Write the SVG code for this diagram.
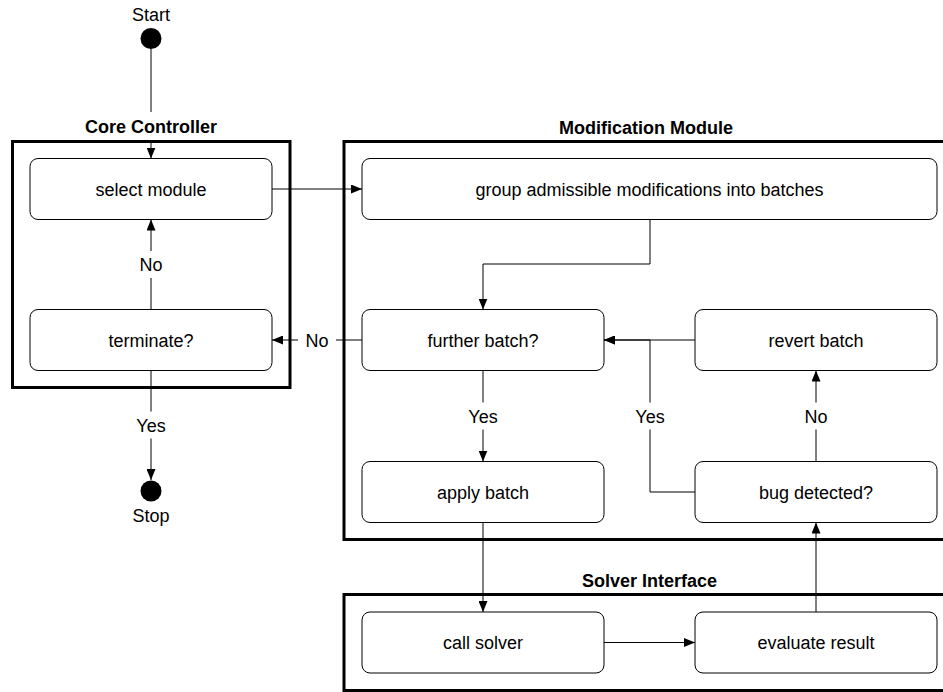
<svg xmlns="http://www.w3.org/2000/svg" width="943" height="692" viewBox="0 0 943 692">
  <style>
    .frame { fill: none; stroke: #000; stroke-width: 3; }
    .node rect { fill: #fff; stroke: #000; stroke-width: 1; }
    .node text, .lbl text, .term text { font-family: "Liberation Sans", Arial, sans-serif; font-size: 18px; text-anchor: middle; fill: #000; }
    .title { font-family: "Liberation Sans", Arial, sans-serif; font-size: 18px; font-weight: bold; text-anchor: middle; fill: #000; }
    .conn path { fill: none; stroke: #000; stroke-width: 1; }
    .arr { marker-end: url(#ah); }
    .bg { fill: #fff; stroke: none; }
  </style>
  <defs>
    <marker id="ah" markerUnits="userSpaceOnUse" markerWidth="11" markerHeight="9" refX="11" refY="4.5" orient="auto">
      <path d="M0,0 L11,4.5 L0,9 z" fill="#000"/>
    </marker>
  </defs>
  <rect width="943" height="692" fill="#fff"/>

  <!-- frames -->
  <g id="frames">
    <rect class="frame" x="12.5" y="141.5" width="277.5" height="246"/>
    <rect class="frame" x="344" y="141.5" width="611" height="398"/>
    <rect class="frame" x="344" y="594.5" width="611" height="96"/>
  </g>

  <!-- connectors -->
  <g id="connectors" class="conn">
    <path class="arr" d="M151,49 V158.5"/>
    <path class="arr" d="M272,189 H362"/>
    <path class="arr" d="M650,219.5 V264 H483 V309.5"/>
    <path class="arr" d="M362,340 H272"/>
    <path class="arr" d="M151,309.5 V219.5"/>
    <path class="arr" d="M151,370.5 V480"/>
    <path class="arr" d="M483,370.5 V461.5"/>
    <path class="arr" d="M695,340 H604"/>
    <path class="arr" d="M695,492 H650 V340 H604"/>
    <path class="arr" d="M816,461.5 V370.5"/>
    <path class="arr" d="M483,522.5 V612"/>
    <path class="arr" d="M604,642.5 H695"/>
    <path class="arr" d="M816,612 V522.5"/>
  </g>

  <!-- frame titles -->
  <g id="frame-titles">
    <rect class="bg" x="77" y="112" width="148" height="28"/>
    <rect class="bg" x="553" y="112" width="186" height="28"/>
    <rect class="bg" x="576" y="565" width="147" height="28"/>
    <text class="title" x="151" y="133">Core Controller</text>
    <text class="title" x="646" y="134">Modification Module</text>
    <text class="title" x="649.5" y="586.5">Solver Interface</text>
  </g>

  <!-- connector labels -->
  <g id="labels" class="lbl">
    <rect class="bg" x="132" y="251" width="38" height="27"/>
    <text x="151" y="271">No</text>
    <rect class="bg" x="128" y="411.5" width="46" height="27"/>
    <text x="151" y="431.5">Yes</text>
    <rect class="bg" x="298" y="326.5" width="38" height="27"/>
    <text x="317" y="346.5">No</text>
    <rect class="bg" x="460" y="402.5" width="46" height="27"/>
    <text x="483" y="422.5">Yes</text>
    <rect class="bg" x="627" y="402.5" width="46" height="27"/>
    <text x="650" y="422.5">Yes</text>
    <rect class="bg" x="797" y="402.5" width="38" height="27"/>
    <text x="816" y="422.5">No</text>
  </g>

  <!-- start / stop -->
  <g id="start" class="term">
    <circle cx="151" cy="38.5" r="10.5" fill="#000"/>
    <text x="151" y="21">Start</text>
  </g>
  <g id="stop" class="term">
    <circle cx="151" cy="491" r="10.5" fill="#000"/>
    <text x="151" y="522">Stop</text>
  </g>

  <!-- nodes -->
  <g id="select-module" class="node">
    <rect x="30" y="158.5" width="242" height="61" rx="8"/>
    <text x="151" y="195.5">select module</text>
  </g>
  <g id="terminate" class="node">
    <rect x="30" y="309.5" width="242" height="61" rx="8"/>
    <text x="151" y="346.5">terminate?</text>
  </g>
  <g id="group-batches" class="node">
    <rect x="362" y="158.5" width="575" height="61" rx="8"/>
    <text x="649.5" y="195.5">group admissible modifications into batches</text>
  </g>
  <g id="further-batch" class="node">
    <rect x="362" y="309.5" width="242" height="61" rx="8"/>
    <text x="483" y="346.5">further batch?</text>
  </g>
  <g id="revert-batch" class="node">
    <rect x="695" y="309.5" width="242" height="61" rx="8"/>
    <text x="816" y="346.5">revert batch</text>
  </g>
  <g id="apply-batch" class="node">
    <rect x="362" y="461.5" width="242" height="61" rx="8"/>
    <text x="483" y="498.5">apply batch</text>
  </g>
  <g id="bug-detected" class="node">
    <rect x="695" y="461.5" width="242" height="61" rx="8"/>
    <text x="816" y="498.5">bug detected?</text>
  </g>
  <g id="call-solver" class="node">
    <rect x="362" y="612" width="242" height="61" rx="8"/>
    <text x="483" y="649">call solver</text>
  </g>
  <g id="evaluate-result" class="node">
    <rect x="695" y="612" width="242" height="61" rx="8"/>
    <text x="816" y="649">evaluate result</text>
  </g>
</svg>
